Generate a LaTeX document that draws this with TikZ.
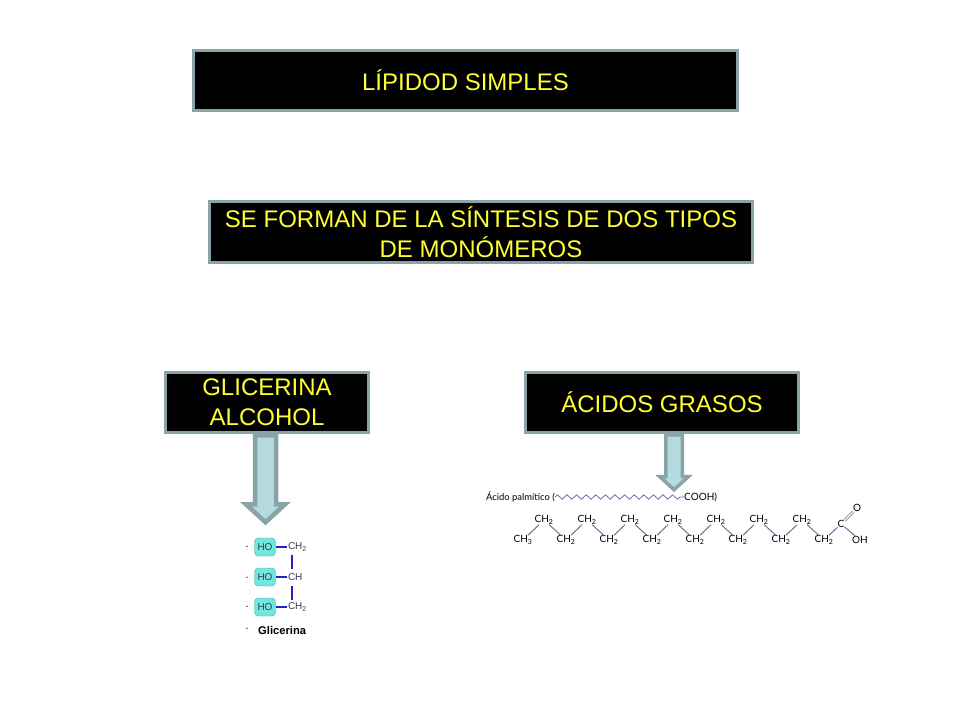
\documentclass[tikz,border=0pt]{standalone}
\usepackage{fontspec}
\setmainfont{Liberation Sans}
\newfontfamily\chainfont{Lato}
\usetikzlibrary{shapes.arrows,decorations.pathmorphing}
\definecolor{boxedge}{HTML}{8AA3A6}
\definecolor{arrowfill}{HTML}{B4DCE0}
\definecolor{boxtext}{HTML}{FFFF33}
\definecolor{hofill}{HTML}{70E8E0}
\definecolor{hoedge}{HTML}{44A8A4}
\definecolor{bondblue}{HTML}{2222C4}
\definecolor{bondgray}{HTML}{6E6EA0}
\definecolor{atomgray}{HTML}{3A3A4A}
\begin{document}
\begin{tikzpicture}
        [x=1pt,y=-1pt,
         titlebox/.style={draw=boxedge, line width=3pt, fill=black, text=boxtext, inner sep=0pt, align=center,
           font=\fontsize{24}{30}\selectfont},
         blockarrow/.style={single arrow, shape border rotate=270, draw=boxedge, fill=arrowfill,
           anchor=tail, single arrow head indent=0pt, single arrow tip angle=95},
         hobox/.style={draw=hoedge, fill=hofill, rounded corners=4pt, inner sep=0pt, minimum width=21pt, minimum height=18pt,
           text=atomgray, font=\fontsize{10}{12}\selectfont},
         atom/.style={inner sep=0.8pt, text=atomgray, font=\fontsize{10}{12}\selectfont},
         chainatom/.style={inner sep=0pt, text=black, font=\chainfont\fontsize{10}{11}\selectfont},
         dotmark/.style={inner sep=0pt, font=\fontsize{5}{6}\selectfont}]
      \useasboundingbox (0,0) rectangle (960,720);

      % boxes
      \node[titlebox, minimum width=544pt, minimum height=60pt] (title) at (465.5,80.5) {\raisebox{1pt}{LÍPIDOD SIMPLES}};
      \node[titlebox, minimum width=543pt, minimum height=61pt] (sintesis) at (481,232) {SE FORMAN DE LA SÍNTESIS DE DOS TIPOS\\DE MONÓMEROS};
      \node[titlebox, minimum width=203pt, minimum height=60pt] (glicerina) at (267,402.5) {GLICERINA\\ALCOHOL};
      \node[titlebox, minimum width=273pt, minimum height=60pt] (acidos) at (662,402.5) {ÁCIDOS GRASOS};

      % arrows
      \node[blockarrow, line width=4.5pt, minimum height=87pt, inner sep=8.25pt, single arrow head extend=9pt] (arrowglic) at (265.5,433) {};
      \node[blockarrow, line width=3.5pt, minimum height=55pt, inner sep=6.5pt, single arrow head extend=6pt] (arrowacid) at (674,433) {};

      % glicerina
      \node[hobox] (ho1) at (265,547) {HO};
      \node[hobox] (ho2) at (265,577) {HO};
      \node[hobox] (ho3) at (265,607) {HO};
      \node[atom, anchor=west] (ch1) at (287,547) {CH\textsubscript{2}};
      \node[atom, anchor=west] (ch2) at (287,577) {CH};
      \node[atom, anchor=west] (ch3) at (287,607) {CH\textsubscript{2}};
      \node[dotmark] (dot1) at (247,547) {•};
      \node[dotmark] (dot2) at (247,578) {•};
      \node[dotmark] (dot3) at (247,607) {•};
      \node[dotmark] (dot4) at (247,629) {•};
      \node[inner sep=0pt, font=\bfseries\fontsize{11.2}{12}\selectfont, anchor=west] (glilabel) at (258,630) {Glicerina};
      \foreach \from/\to in {ho1/ch1, ho2/ch2, ho3/ch3}
        \draw[bondblue, line width=1.5pt] (\from) -- (\to);
      \draw[bondblue, line width=1.2pt] (292,555) -- (292,569);
      \draw[bondblue, line width=1.2pt] (292,586) -- (292,600);

      % acido palmitico
      \node[chainatom, anchor=east, font=\chainfont\fontsize{9.4}{11}\selectfont] (palm) at (555,497) {Ácido palmítico (};
      \node[chainatom, anchor=west] (cooh) at (684,497) {COOH)};
      \draw[bondgray, line width=0.8pt, decorate, decoration={zigzag, amplitude=2.2pt, segment length=9.6pt}] (palm.east) -- (cooh.west);

      \node[chainatom] (c0) at (523,540) {CH\textsubscript{3}};
      \node[chainatom] (c1) at (544,520) {CH\textsubscript{2}};
      \node[chainatom] (c2) at (566,540) {CH\textsubscript{2}};
      \node[chainatom] (c3) at (587,520) {CH\textsubscript{2}};
      \node[chainatom] (c4) at (609,540) {CH\textsubscript{2}};
      \node[chainatom] (c5) at (630,520) {CH\textsubscript{2}};
      \node[chainatom] (c6) at (652,540) {CH\textsubscript{2}};
      \node[chainatom] (c7) at (673,520) {CH\textsubscript{2}};
      \node[chainatom] (c8) at (695,540) {CH\textsubscript{2}};
      \node[chainatom] (c9) at (716,520) {CH\textsubscript{2}};
      \node[chainatom] (c10) at (738,540) {CH\textsubscript{2}};
      \node[chainatom] (c11) at (759,520) {CH\textsubscript{2}};
      \node[chainatom] (c12) at (781,540) {CH\textsubscript{2}};
      \node[chainatom] (c13) at (802,520) {CH\textsubscript{2}};
      \node[chainatom] (c14) at (824,540) {CH\textsubscript{2}};
      \node[chainatom] (c15) at (841,524) {C};
      \node[chainatom] (oxy) at (857,508) {O};
      \node[chainatom] (oh) at (860,540) {OH};

      \foreach \from/\to in {c0/c1, c1/c2, c2/c3, c3/c4, c4/c5, c5/c6, c6/c7, c7/c8, c8/c9, c9/c10, c10/c11, c11/c12, c12/c13, c13/c14, c14/c15, c15/oh}
        \draw[bondgray, line width=1pt] (\from) -- (\to);
      \draw[bondgray, line width=0.7pt, double, double distance=1.2pt] (c15) -- (oxy);
    \end{tikzpicture}
\end{document}
